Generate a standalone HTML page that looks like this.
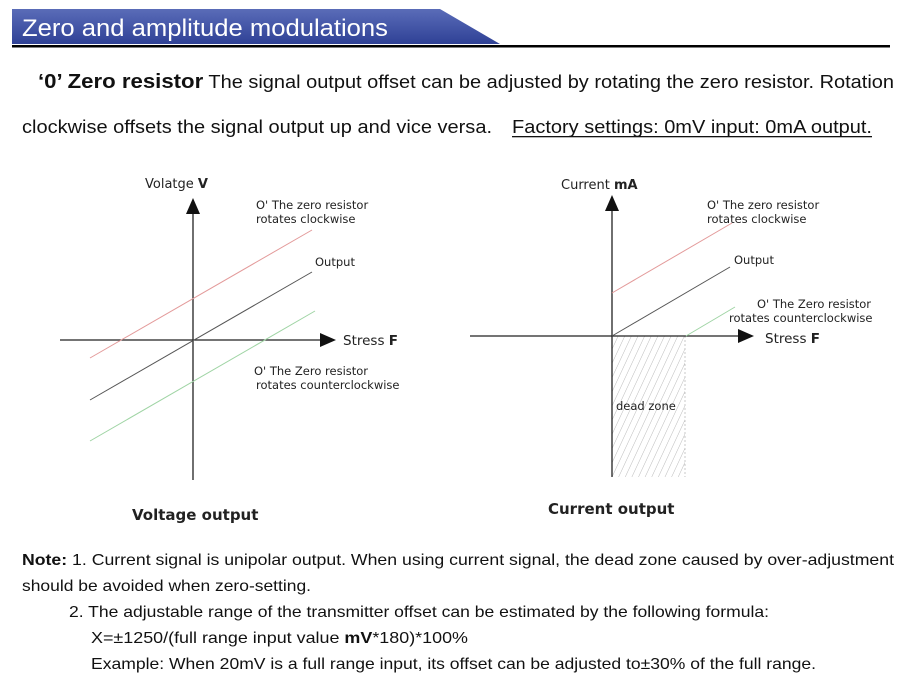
<!DOCTYPE html>
<html><head><meta charset="utf-8"><style>
html,body{margin:0;padding:0;background:#fff;}
svg{display:block;font-family:"Liberation Sans",sans-serif;}
</style></head><body>
<svg width="915" height="694" viewBox="0 0 915 694" xmlns="http://www.w3.org/2000/svg">
<defs>
<linearGradient id="hg" x1="0" y1="0" x2="0" y2="1">
<stop offset="0" stop-color="#5a6cb8"/><stop offset="1" stop-color="#2f4196"/>
</linearGradient>
<pattern id="hatch" width="6" height="6" patternUnits="userSpaceOnUse" patternTransform="rotate(25)">
<line x1="0" y1="0" x2="0" y2="6" stroke="#aaa" stroke-width="0.8"/>
</pattern>
</defs>
<polygon points="12,9 440,9 500,44 12,44" fill="url(#hg)"/>
<rect x="12" y="45" width="878" height="2.5" fill="#000"/>
<text x="22" y="36" font-size="24" fill="#fff" textLength="366" lengthAdjust="spacingAndGlyphs">Zero and amplitude modulations</text>
<text x="38" y="88" font-size="18" fill="#111" textLength="856" lengthAdjust="spacingAndGlyphs"><tspan font-weight="bold" font-size="20">‘0’  Zero resistor</tspan> The signal output offset can be adjusted by rotating the zero resistor. Rotation</text>
<text x="22" y="133" font-size="18" fill="#111" textLength="470" lengthAdjust="spacingAndGlyphs">clockwise offsets the signal output up and vice versa.</text>
<text x="512" y="133" font-size="18" fill="#111" textLength="360" lengthAdjust="spacingAndGlyphs">Factory settings: 0mV input: 0mA output.</text>
<rect x="512" y="136" width="360" height="1.3" fill="#111"/>

<g font-family="DejaVu Sans,sans-serif" fill="#222">
<line x1="193" y1="210" x2="193" y2="480" stroke="#222" stroke-width="1.3"/>
<polygon points="193,198 186,214 200,214" fill="#111"/>
<line x1="60" y1="340" x2="322" y2="340" stroke="#222" stroke-width="1.3"/>
<polygon points="336,340 320,333 320,347" fill="#111"/>
<line x1="90" y1="358" x2="312" y2="230" stroke="#e39a9a" stroke-width="1"/>
<line x1="90" y1="400" x2="312" y2="272" stroke="#555" stroke-width="1"/>
<line x1="90" y1="441" x2="315" y2="311" stroke="#9fd4a4" stroke-width="1"/>
<text x="145" y="188" font-size="13">Volatge <tspan font-weight="bold">V</tspan></text>
<text x="256" y="209" font-size="11.5">O' The zero resistor</text>
<text x="256" y="223" font-size="11.5">rotates clockwise</text>
<text x="315" y="266" font-size="11.5">Output</text>
<text x="343" y="345" font-size="13.5">Stress <tspan font-weight="bold">F</tspan></text>
<text x="254" y="375" font-size="11.5">O'  The Zero resistor</text>
<text x="256" y="389" font-size="11.5">rotates counterclockwise</text>
<text x="132" y="520" font-size="15" font-weight="bold">Voltage output</text>
</g>

<g font-family="DejaVu Sans,sans-serif" fill="#222">
<rect x="612" y="336" width="73" height="141" fill="url(#hatch)"/>
<line x1="685" y1="336" x2="685" y2="477" stroke="#bbb" stroke-width="0.8" stroke-dasharray="2,2"/>
<line x1="612" y1="207" x2="612" y2="477" stroke="#222" stroke-width="1.3"/>
<polygon points="612,195 605,211 619,211" fill="#111"/>
<line x1="470" y1="336" x2="740" y2="336" stroke="#222" stroke-width="1.3"/>
<polygon points="754,336 738,329 738,343" fill="#111"/>
<line x1="612" y1="293" x2="732" y2="223" stroke="#e39a9a" stroke-width="1"/>
<line x1="612" y1="336" x2="730" y2="267" stroke="#555" stroke-width="1"/>
<line x1="686" y1="336" x2="735" y2="307" stroke="#9fd4a4" stroke-width="1"/>
<text x="561" y="189" font-size="13">Current <tspan font-weight="bold">mA</tspan></text>
<text x="707" y="209" font-size="11.5">O' The zero resistor</text>
<text x="707" y="223" font-size="11.5">rotates clockwise</text>
<text x="734" y="264" font-size="11.5">Output</text>
<text x="757" y="308" font-size="11.5">O'  The Zero resistor</text>
<text x="729" y="322" font-size="11.5">rotates counterclockwise</text>
<text x="765" y="343" font-size="13.5">Stress <tspan font-weight="bold">F</tspan></text>
<text x="616" y="410" font-size="11.5">dead zone</text>
<text x="548" y="514" font-size="15" font-weight="bold">Current output</text>
</g>

<g font-size="16" fill="#111">
<text x="22" y="565" textLength="872" lengthAdjust="spacingAndGlyphs"><tspan font-weight="bold">Note:</tspan> 1. Current signal is unipolar output. When using current signal, the dead zone caused by over-adjustment</text>
<text x="22" y="591" textLength="289" lengthAdjust="spacingAndGlyphs">should be avoided when zero-setting.</text>
<text x="69" y="617" textLength="700" lengthAdjust="spacingAndGlyphs">2. The adjustable range of the transmitter offset can be estimated by the following formula:</text>
<text x="91" y="643" textLength="377" lengthAdjust="spacingAndGlyphs">X=±1250/(full range input value <tspan font-weight="bold">mV</tspan>*180)*100%</text>
<text x="91" y="669" textLength="725" lengthAdjust="spacingAndGlyphs">Example: When 20mV is a full range input, its offset can be adjusted to±30% of the full range.</text>
</g>
</svg>
</body></html>
